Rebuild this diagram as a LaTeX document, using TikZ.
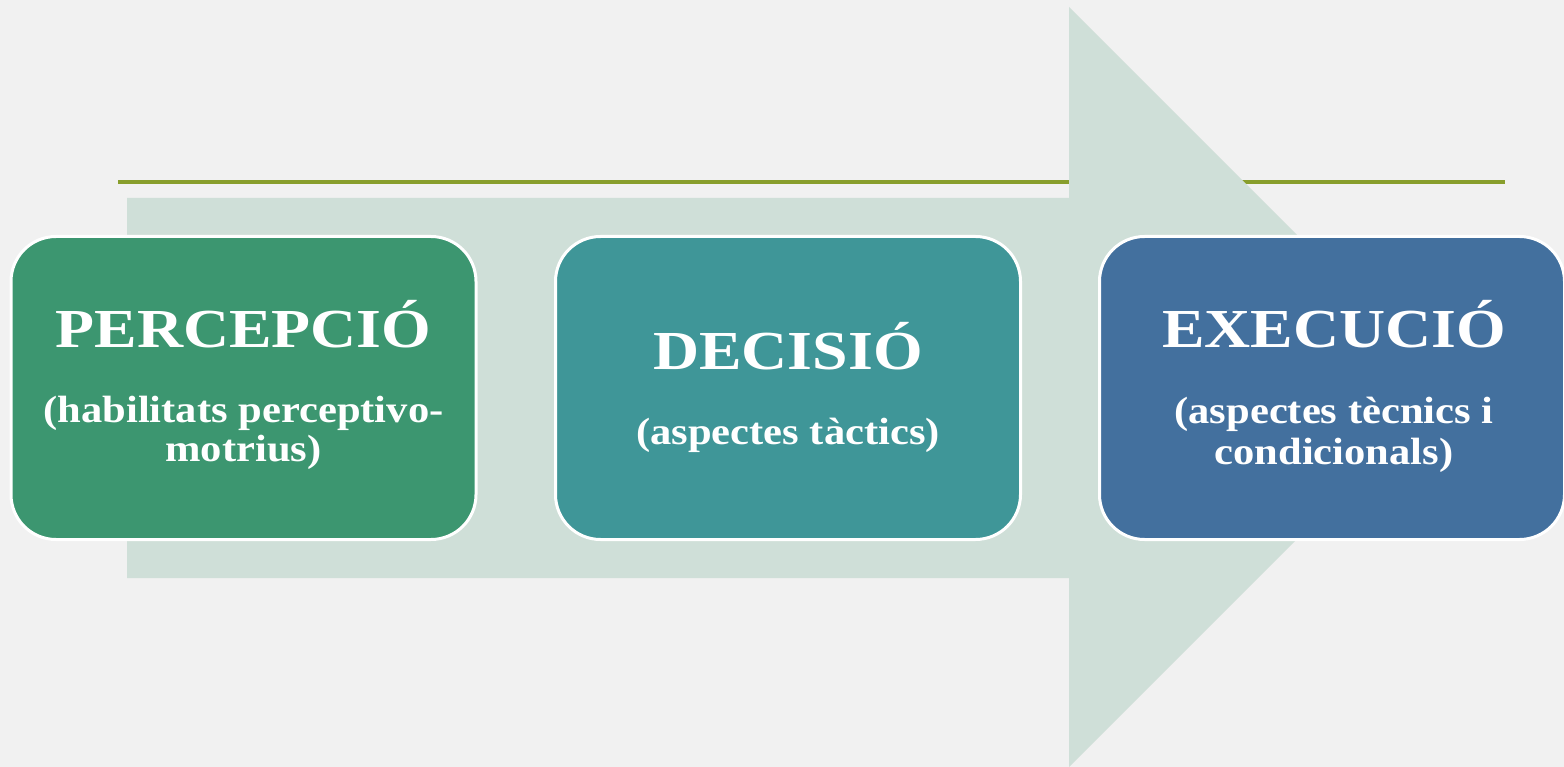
\documentclass[tikz,border=0pt]{standalone}
\usepackage{fontspec}
\newfontfamily\boxfont[FakeStretch=1.16]{Liberation Serif Bold}
\newfontfamily\subfont[FakeStretch=1.12]{Liberation Serif Bold}
\definecolor{bgc}{HTML}{F1F1F1}
\definecolor{arrowc}{HTML}{CFDFD8}
\definecolor{linec}{HTML}{889E2C}
\definecolor{boxA}{HTML}{3C9670}
\definecolor{boxB}{HTML}{3F9698}
\definecolor{boxC}{HTML}{43709E}
\tikzset{
  stagebox/.style={draw=white, line width=3pt, rounded corners=45pt,
    minimum width=465pt, minimum height=303pt, inner sep=0pt},
  titletext/.style={text=white, anchor=base, inner sep=0pt,
    font=\boxfont\fontsize{55}{60}\selectfont},
  subtext/.style={text=white, anchor=base, inner sep=0pt,
    font=\subfont\fontsize{38}{42}\selectfont},
}
\begin{document}
\begin{tikzpicture}[x=1pt,y=-1pt]
\useasboundingbox (0,0) rectangle (1564,767);
\fill[bgc] (0,0) rectangle (1564,767);
% olive rule
\coordinate (ls) at (118,182.5);
\coordinate (le) at (1505,182.5);
\draw[linec, line width=4pt] (ls) -- (le);
% big arrow
\fill[arrowc] (127,198) -- (1069,198) -- (1069,7) -- (1449,387)
  -- (1069,767) -- (1069,578) -- (127,578) -- cycle;
% boxes
\node[stagebox, fill=boxA] (b1) at (243.5,388) {};
\node[stagebox, fill=boxB] (b2) at (788,388) {};
\node[stagebox, fill=boxC] (b3) at (1332,388) {};
% texts
\node[titletext] (t1) at (243.5,348) {PERCEPCIÓ};
\node[subtext] (s1a) at (243.5,422) {(habilitats perceptivo-};
\node[subtext] (s1b) at (243.5,461) {motrius)};
\node[titletext] (t2) at (788,370) {DECISIÓ};
\node[subtext] (s2a) at (788,444) {(aspectes tàctics)};
\node[titletext] (t3) at (1334,348) {EXECUCIÓ};
\node[subtext] (s3a) at (1334,423) {(aspectes tècnics i};
\node[subtext] (s3b) at (1334,464) {condicionals)};
\end{tikzpicture}
\end{document}
